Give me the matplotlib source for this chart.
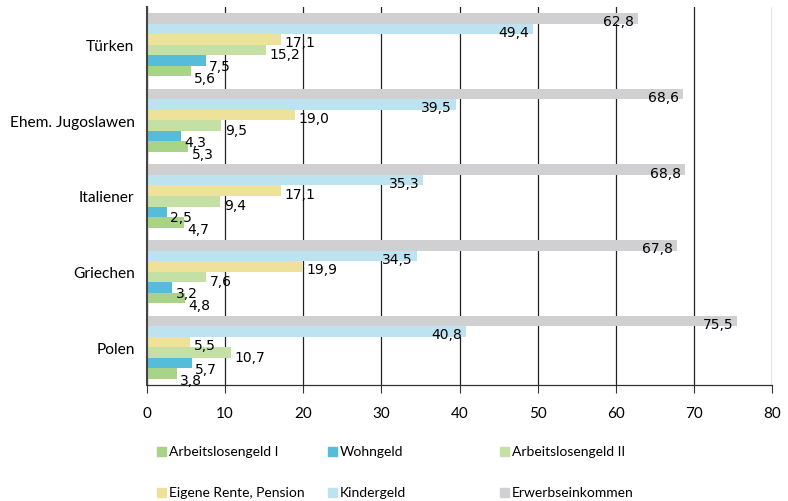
import numpy as np
import matplotlib.pyplot as plt
from matplotlib.patches import Rectangle

groups = ["Türken", "Ehem. Jugoslawen", "Italiener", "Griechen", "Polen"]
series = ["Arbeitslosengeld I", "Wohngeld", "Arbeitslosengeld II",
          "Eigene Rente, Pension", "Kindergeld", "Erwerbseinkommen"]
colors = ["#a9d386", "#55bcd9", "#c5e0a5", "#eee29b", "#bde3f0", "#d0d0d2"]

alg1 = [5.6, 5.3, 4.7, 4.8, 3.8]
wohngeld = [7.5, 4.3, 2.5, 3.2, 5.7]
alg2 = [15.2, 9.5, 9.4, 7.6, 10.7]
rente = [17.1, 19.0, 17.1, 19.9, 5.5]
kindergeld = [49.4, 39.5, 35.3, 34.5, 40.8]
erwerb = [62.8, 68.6, 68.8, 67.8, 75.5]
values = [alg1, wohngeld, alg2, rente, kindergeld, erwerb]

label_font = "Lato"

fig = plt.figure(figsize=(7.88, 5.02), dpi=100)
ax = fig.add_axes([147 / 788, 116 / 502, 625 / 788, 378 / 502])

y = np.arange(len(groups))
h = 0.139

for k, (name, vals, col) in enumerate(zip(series, values, colors)):
    pos = y + (2.5 - k) * h
    ax.barh(pos, vals, height=h, color=col, zorder=2)
    for p, v in zip(pos, vals):
        txt = f"{v:.1f}".replace(".", ",")
        if k >= 4:
            ax.annotate(txt, (v, p), xytext=(-2.5, -2), textcoords="offset points",
                        ha="right", va="center", fontsize=10, zorder=3)
        else:
            # small values sit just right of the bar, a bit lower
            ax.annotate(txt, (v, p), xytext=(2.5, -2 - (3 - k) * 1.0), textcoords="offset points",
                        ha="left", va="center", fontsize=10, zorder=3)

ax.set_xlim(0, 80)
ax.set_ylim(4.5, -0.5)
ax.set_xticks(range(0, 81, 10))
ax.set_yticks(y)
ax.set_yticklabels(groups, family=label_font, fontsize=11.2)
for t in ax.get_xticklabels():
    t.set_family(label_font)
    t.set_fontsize(11)
ax.tick_params(axis="y", length=0, pad=9)
ax.tick_params(axis="x", length=6, width=0.8, color="#333333", pad=9)
ax.grid(axis="x", color="#222222", linewidth=0.9, zorder=0)
ax.set_axisbelow(True)
for s in ["top", "right"]:
    ax.spines[s].set_visible(False)
ax.spines["left"].set_color("#444444")
ax.spines["left"].set_linewidth(1.5)
ax.spines["bottom"].set_color("#333333")
ax.spines["bottom"].set_linewidth(0.9)

# legend, 3 columns x 2 rows, row by row
col_x = [157, 328, 500]
row_y = [452, 493]
for k, (name, col) in enumerate(zip(series, colors)):
    cx = col_x[k % 3]
    cy = row_y[k // 3]
    fig.patches.append(Rectangle((cx / 788, (502 - cy - 4.5) / 502), 9 / 788, 9 / 502,
                                 transform=fig.transFigure, color=col, figure=fig))
    fig.text((cx + 12) / 788, (502 - cy) / 502, name, family=label_font,
             fontsize=10, va="center", ha="left")

fig.savefig("out.png", dpi=100)
